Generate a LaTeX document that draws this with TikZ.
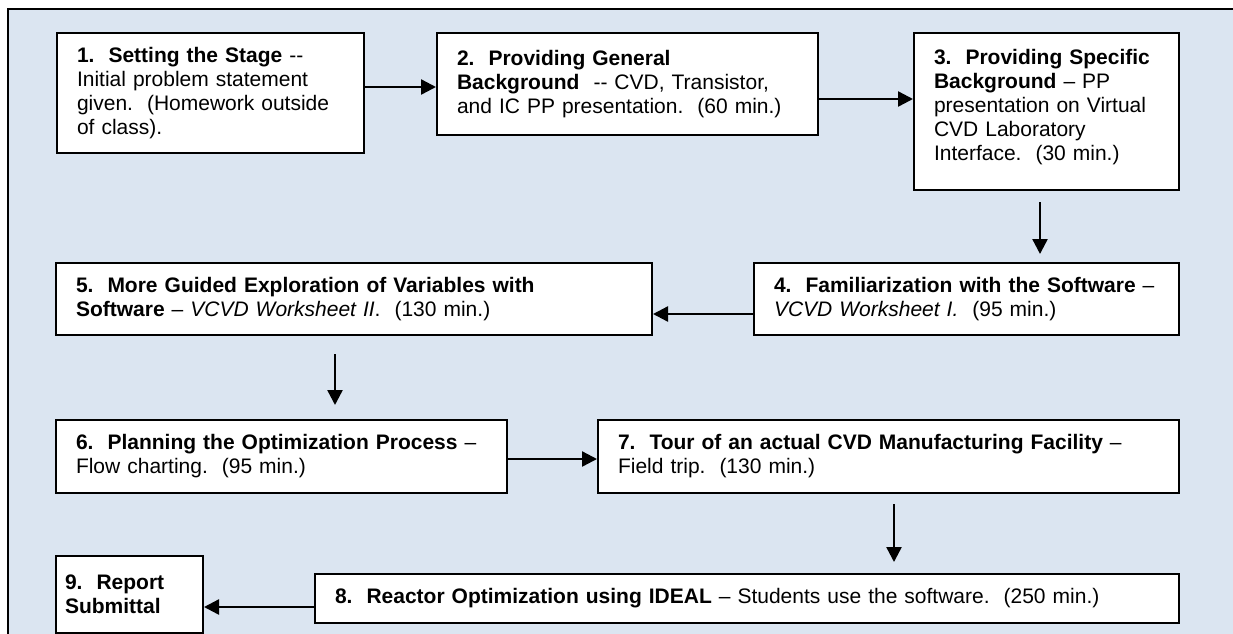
\documentclass[tikz,border=0pt]{standalone}
\usepackage{fontspec}
\setmainfont{Liberation Sans}
\usepackage{tikz}
\usetikzlibrary{arrows.meta}
\definecolor{paper}{HTML}{DBE5F1}
\definecolor{ink}{HTML}{000000}
\tikzset{
  frame/.style={draw=ink, fill=paper, line width=2pt},
  stage/.style={draw=ink, fill=white, line width=2pt, anchor=north west,
    align=left, inner xsep=20pt, inner ysep=4pt,
    font=\fontsize{21}{24}\selectfont\frenchspacing},
  flow/.style={draw=ink, line width=2.4pt, -{Triangle[length=15pt,width=15pt]}},
}

\begin{document}
\begin{tikzpicture}[x=1pt,y=-1pt]
  \clip (0,0) rectangle (1233,633);
  \path[frame] (8,9) rectangle (1250,650);

  % top row
  \node[stage, text width=267pt, minimum height=120pt] (b1) at (56,32)
    {\textbf{1.~~Setting the Stage} -{}-\\Initial problem statement\\given.~~(Homework outside\\of class).};
  \node[stage, text width=341pt, minimum height=102pt] (b2) at (436,32)
    {\textbf{2.~~Providing General}\\\textbf{Background}~~-{}- CVD, Transistor,\\and IC PP presentation.~~(60 min.)};
  \node[stage, text width=225pt, inner ysep=15pt, text height=16pt, text depth=111pt] (b3) at (913,32)
    {\textbf{3.~~Providing Specific}\\\textbf{Background} \textendash{} PP\\presentation on Virtual\\CVD Laboratory\\Interface.~~(30 min.)};

  % second row
  \node[stage, text width=385pt, minimum height=72pt] (b4) at (753,262)
    {\textbf{4.~~Familiarization with the Software}~\textendash\\\textit{VCVD Worksheet I.}~~(95 min.)};
  \node[stage, text width=556pt, minimum height=72pt] (b5) at (55,262)
    {\textbf{5.~~More Guided Exploration of Variables with}\\\textbf{Software} \textendash{} \textit{VCVD Worksheet II}.~~(130 min.)};

  % third row
  \node[stage, text width=411pt, minimum height=73pt] (b6) at (55,419)
    {\textbf{6.~~Planning the Optimization Process}~\textendash\\Flow charting.~~(95 min.)};
  \node[stage, text width=541pt, minimum height=73pt] (b7) at (597,419)
    {\textbf{7.~~Tour of an actual CVD Manufacturing Facility}~\textendash\\Field trip.~~(130 min.)};

  % last row
  \node[stage, text width=824pt, minimum height=49pt] (b8) at (314,573)
    {\textbf{8.~~Reactor Optimization using IDEAL} \textendash{} Students use the software.~~(250 min.)};
  \node[stage, inner xsep=9pt, text width=129pt, minimum height=77pt] (b9) at (55,555)
    {\textbf{9.~~Report}\\\textbf{Submittal}};

  \draw[flow] ([yshift=6pt]b1.east) -- ([yshift=-3pt]b2.west);
  \draw[flow] ([yshift=-15pt]b2.east) -- ([yshift=12.5pt]b3.west);
  \draw[flow, shorten <=11pt, shorten >=8pt] ([xshift=-6.5pt]b3.south) -- ([xshift=73.5pt]b4.north);
  \draw[flow] ([yshift=-15pt]b4.west) -- ([yshift=-15pt]b5.east);
  \draw[flow, shorten <=18pt, shorten >=14pt] ([xshift=-19pt]b5.south) -- ([xshift=53.5pt]b6.north);
  \draw[flow] ([yshift=-2.5pt]b6.east) -- ([yshift=-2.5pt]b7.west);
  \draw[flow, shorten <=10pt, shorten >=11pt] ([xshift=5.5pt]b7.south) -- ([xshift=147pt]b8.north);
  \draw[flow] ([yshift=-8.5pt]b8.west) -- ([yshift=-12.5pt]b9.east);
\end{tikzpicture}
\end{document}
